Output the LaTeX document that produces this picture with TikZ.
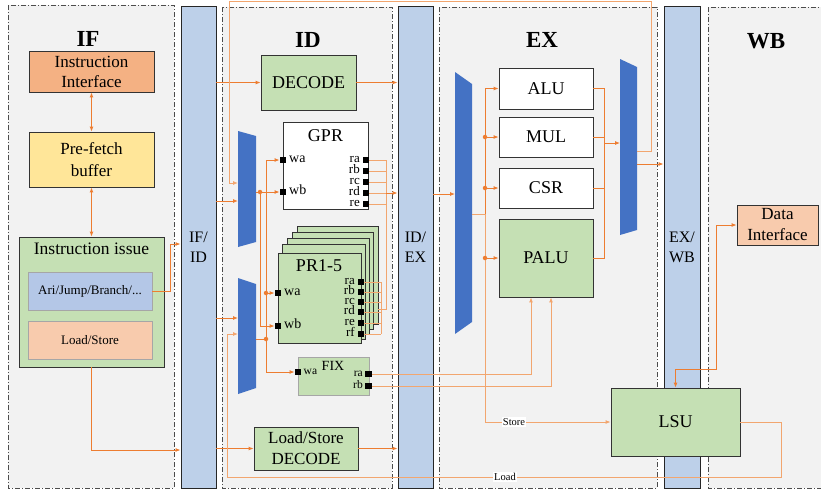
\documentclass[tikz,border=0pt]{standalone}
\usepackage{fontspec}
\setmainfont{Liberation Serif}
\usetikzlibrary{arrows.meta}
\newcommand{\myfs}[2]{\fontsize{#1}{#2}\selectfont}
\definecolor{panelgray}{HTML}{F2F2F2}
\definecolor{regblue}{HTML}{BDD0E9}
\definecolor{muxblue}{HTML}{4472C4}
\definecolor{boxgreen}{HTML}{C5E0B4}
\definecolor{boxorange}{HTML}{F4B183}
\definecolor{boxyellow}{HTML}{FFE699}
\definecolor{boxpeach}{HTML}{F8CBAD}
\definecolor{boxlblue}{HTML}{B4C7E7}
\definecolor{wire}{HTML}{ED7D31}
\definecolor{wirel}{HTML}{F2A66F}
\begin{document}
\begin{tikzpicture}[x=1pt,y=-1pt,
  >={Latex[length=5pt,width=4pt]},
  panel/.style={draw=black!70, fill=panelgray, line width=0.6pt, dash pattern=on 5pt off 2pt on 1pt off 2pt},
  reg/.style={draw=black!85, fill=regblue, line width=0.9pt, align=center, inner sep=0pt, font={\myfs{16}{20}}},
  blk/.style={draw=black!80, line width=0.8pt, align=center, inner sep=0pt},
  prbox/.style={draw=black!80, line width=0.8pt, fill=boxgreen},
  ttl/.style={font={\myfs{23}{25}\bfseries}},
  wr/.style={draw=wire, line width=0.9pt},
  wrl/.style={draw=wirel, line width=0.9pt},
  port/.style={fill=black, minimum size=6.5pt, inner sep=0pt},
  jdot/.style={circle, fill=wire, minimum size=4.5pt, inner sep=0pt},
  plbl/.style={inner sep=1pt, font={\myfs{13}{13}}, text height=5.8pt, text depth=0pt},
  slbl/.style={inner sep=1pt, font={\myfs{11.5}{12}}, text height=5.2pt, text depth=0pt},
  wlbl/.style={fill=white, inner sep=1pt, font={\myfs{10.5}{11}}}
]
\useasboundingbox (0,0) rectangle (821,493);
% ---------- panels ----------
\draw[panel] (8,5) rectangle (174,488);
\draw[panel] (222,7) rectangle (392,488);
\draw[panel] (439,7) rectangle (657,488);
\draw[panel] (708,7) rectangle (826,488);
\node[ttl] (tIF) at (88,39) {IF};
\node[ttl] (tID) at (308,40) {ID};
\node[ttl] (tEX) at (542,40) {EX};
\node[ttl] (tWB) at (766,41) {WB};
% ---------- pipeline registers ----------
\node[reg, minimum width=35pt, minimum height=482pt] (ifid) at (198.5,247) {IF/\\ID};
\node[reg, minimum width=35pt, minimum height=482pt] (idex) at (415.5,247) {ID/\\EX};
\node[reg, minimum width=36pt, minimum height=482pt] (exwb) at (682,247) {EX/\\WB};
% ---------- IF ----------
\node[blk, fill=boxorange, minimum width=125pt, minimum height=41pt, font={\myfs{17}{20}}] (iif) at (91.5,71.5) {Instruction\\Interface};
\node[blk, fill=boxyellow, minimum width=125pt, minimum height=55pt, font={\myfs{17}{22}}] (pfb) at (91.5,159.5) {Pre-fetch\\buffer};
\node[blk, fill=boxgreen, minimum width=145pt, minimum height=130pt] (iss) at (91.5,302) {};
\node[font={\myfs{17.5}{20}}] (isst) at (91.5,249) {Instruction issue};
\node[blk, draw=black!35, fill=boxlblue, minimum width=124pt, minimum height=38pt, font={\myfs{13}{15}}] (ari) at (90,291) {Ari/Jump/Branch/...};
\node[blk, draw=black!35, fill=boxpeach, minimum width=124pt, minimum height=38pt, font={\myfs{13}{15}}] (lst) at (90,340) {Load/Store};
% ---------- ID ----------
\node[blk, fill=boxgreen, minimum width=95pt, minimum height=55pt, font={\myfs{18}{20}}] (dec) at (308.5,82.5) {DECODE};
\node[blk, fill=boxgreen, minimum width=104pt, minimum height=43pt, font={\myfs{17}{21}}] (lsd) at (306,448.5) {Load/Store\\DECODE};
% muxes
\fill[muxblue] (238,131) -- (256,136) -- (256,242) -- (238,247) -- cycle;
\fill[muxblue] (238,278) -- (256,284) -- (256,388) -- (238,394) -- cycle;
\coordinate (m1i1) at (238,183);
\coordinate (m1i2) at (238,201);
\coordinate (m1o) at (256,192);
\coordinate (m2i1) at (238,318);
\coordinate (m2i2) at (238,334);
\coordinate (m2o) at (256,339);
% GPR
\node[blk, fill=white, minimum width=85pt, minimum height=87pt] (gpr) at (325.5,165.5) {};
\node[font={\myfs{18}{20}}] (gprt) at (325.5,136) {GPR};
\node[port] (gwa) at (283,160) {};
\node[port] (gwb) at (283,192) {};
\node[plbl, anchor=west, font={\myfs{14}{14}}] (lgwa) at (288,160) {wa};
\node[plbl, anchor=west, font={\myfs{14}{14}}] (lgwb) at (288,192) {wb};
\foreach \n/\y in {ra/160, rb/171, rc/182, rd/193, re/204} {
  \node[port] (g\n) at (366,\y) {};
  \node[plbl, anchor=east] (lg\n) at (361,\y) {\n};
}
% PR stack
\draw[prbox] (297,226) rectangle (378,324);
\draw[prbox] (292,232) rectangle (373,329);
\draw[prbox] (287,238) rectangle (369,334);
\draw[prbox] (282,244) rectangle (365,339);
\node[blk, fill=boxgreen, minimum width=83pt, minimum height=90pt] (pr) at (319.5,298) {};
\node[font={\myfs{18}{20}}] (prt) at (319,266) {PR1-5};
\node[port] (pwa) at (278,293) {};
\node[port] (pwb) at (278,326) {};
\node[plbl, anchor=west, font={\myfs{14}{14}}] (lpwa) at (283,293) {wa};
\node[plbl, anchor=west, font={\myfs{14}{14}}] (lpwb) at (283,326) {wb};
\foreach \n/\y in {ra/282, rb/292, rc/302, rd/312, re/323, rf/334} {
  \node[port] (p\n) at (361,\y) {};
  \node[plbl, anchor=east] (lp\n) at (356,\y) {\n};
}
% FIX
\node[blk, draw=black!35, fill=boxgreen, minimum width=71pt, minimum height=38pt] (fix) at (333.5,376) {};
\node[font={\myfs{14}{14}}] (fixt) at (333,366) {FIX};
\node[port] (fwa) at (298,372) {};
\node[slbl, anchor=west] (lfwa) at (302.5,372) {wa};
\node[port] (fra) at (368.5,374) {};
\node[port] (frb) at (368.5,386) {};
\node[slbl, anchor=east] (lfra) at (364,374) {ra};
\node[slbl, anchor=east] (lfrb) at (364,386) {rb};
% ---------- EX ----------
\fill[muxblue] (455,72) -- (472,84) -- (472,322) -- (455,334) -- cycle;
\fill[muxblue] (620,59) -- (637,67) -- (637,230) -- (620,235) -- cycle;
\coordinate (exi) at (455,194);
\coordinate (exo) at (472,214);
\coordinate (omi) at (620,143);
\coordinate (omo1) at (637,151);
\coordinate (omo2) at (637,164);
\node[blk, fill=white, minimum width=94pt, minimum height=41pt, font={\myfs{18}{20}}] (alu) at (546,88.5) {ALU};
\node[blk, fill=white, minimum width=94pt, minimum height=40pt, font={\myfs{18}{20}}] (mul) at (546,137) {MUL};
\node[blk, fill=white, minimum width=94pt, minimum height=40pt, font={\myfs{18}{20}}] (csr) at (546,188) {CSR};
\node[blk, fill=boxgreen, minimum width=94pt, minimum height=78pt, font={\myfs{18}{20}}] (palu) at (546,258) {PALU};
% ---------- WB ----------
\node[blk, fill=boxgreen, minimum width=129pt, minimum height=68pt, font={\myfs{18}{20}}] (lsu) at (675.5,422) {LSU};
\node[blk, fill=boxpeach, minimum width=81pt, minimum height=40pt, font={\myfs{17}{21}}] (di) at (777.5,225) {Data\\Interface};
% ---------- wires: IF ----------
\draw[wr,<->] (iif.south) -- (pfb.north);
\draw[wr,<->] (pfb.south) -- (iss.north);
\draw[wr,->] (ari.east) -- (170,291) |- (ifid.west |- 0,244);
\draw[wr,->] (iss.south) |- (ifid.west |- 0,450);
% ---------- wires: ID ----------
\draw[wr,->] (ifid.east |- dec.west) -- (dec.west);
\draw[wr,->] (ifid.east |- m1i2) -- (m1i2);
\draw[wr,->] (ifid.east |- m2i1) -- (m2i1);
\draw[wr,->] (ifid.east |- lsd.west) -- (lsd.west);
\draw[wr,->] (dec.east) -- (idex.west |- dec.east);
\draw[wr,->] (lsd.east) -- (idex.west |- lsd.east);
\node[jdot] (d1) at (260,192) {};
\node[jdot] (d2) at (266,339) {};
\node[jdot] (d3) at (266,293) {};
\draw[wr,->] (m1o) -- (gwb.west);
\draw[wr,->] (d1.center) |- (pwb.west);
\draw[wr] (m2o) -- (d2.center);
\draw[wr,->] (d2.center) |- (gwa.west);
\draw[wr,->] (d2.center) |- (fwa.west);
\draw[wr,->] (d3.center) -- (pwa.west);
% GPR read bus
\foreach \n in {ra,rb,rc,rd,re} { \draw[wrl] (g\n.east) -- (g\n.east -| 386,0); }
\draw[wrl] (gra.east -| 386,0) -- (386,309) -- (378,309);
\foreach \n in {ra,rb,rc,rd,re,rf} { \draw[wrl] (p\n.east) -- (p\n.east -| 381,0); }
\draw[wrl] (pra.east -| 381,0) -- (prf.east -| 381,0);
\coordinate (gbus) at (386,193);
\draw[wr,->] (gbus) -- (idex.west |- gbus);
% FIX read ports to PALU
\draw[wrl,->] (fra.east) -| (palu.south -| 531,0);
\draw[wrl,->] (frb.east) -| (palu.south -| 551,0);
% ---------- wires: EX ----------
\draw[wr,->] (idex.east |- exi) -- (exi);
\draw[wr,->] (exo) -| (alu.west -| 485,0) -- (alu.west);
\draw[wrl,->] (exo) -| (lsu.west -| 485,0) -- (lsu.west);
\node[jdot] (e1) at (mul.west -| 485,0) {};
\node[jdot] (e2) at (csr.west -| 485,0) {};
\node[jdot] (e3) at (palu.west -| 485,0) {};
\draw[wr,->] (e1.center) -- (mul.west);
\draw[wr,->] (e2.center) -- (csr.west);
\draw[wr,->] (e3.center) -- (palu.west);
\draw[wr] (alu.east) -| (palu.east -| 604,0) -- (palu.east);
\draw[wr] (mul.east) -- (mul.east -| 604,0);
\draw[wr] (csr.east) -- (csr.east -| 604,0);
\draw[wr,->] (omi -| 604,0) -- (omi);
\draw[wrl,->] (omo1) -- (651,151) -- (651,1) -- (229,1) -- (m1i1 -| 229,0) -- (m1i1);
\draw[wr,->] (omo2) -- (exwb.west |- omo2);
% ---------- wires: WB ----------
\draw[wr,<->] (lsu.north) |- (716,369) |- (di.west);
\draw[wrl,->] (lsu.east) -| (781,477) -| (m2i2 -| 227,0) -- (m2i2);
\node[wlbl] (lstore) at (514,422) {Store};
\node[wlbl] (lload) at (505,477) {Load};
\end{tikzpicture}
\end{document}
